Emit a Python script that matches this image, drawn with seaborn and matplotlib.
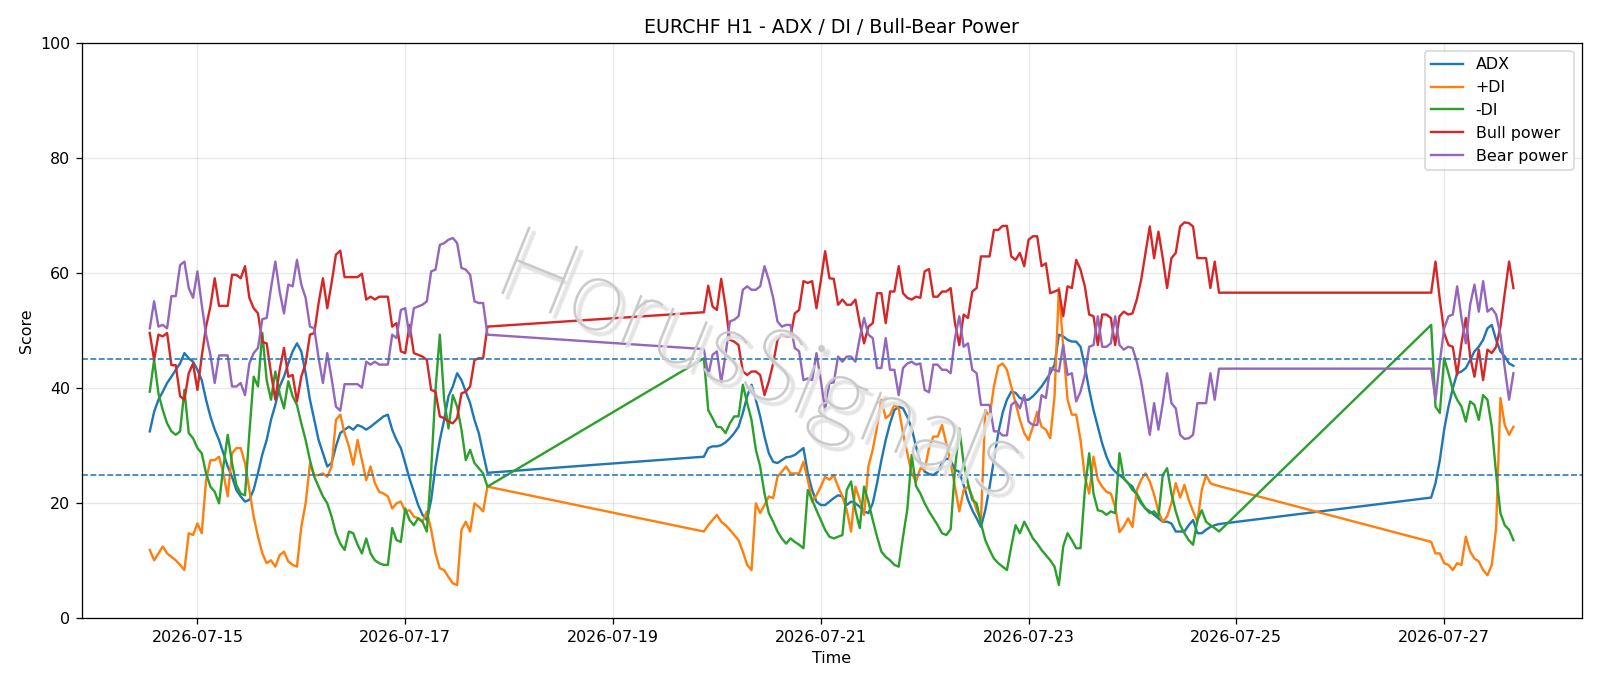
import numpy as np
import pandas as pd
import matplotlib
matplotlib.use("Agg")
import matplotlib.pyplot as plt
import matplotlib.dates as mdates
import matplotlib.patheffects as pe
import seaborn as sns

# ---------------- data ----------------
seg_starts = ["2026-07-14 13:00", "2026-07-19 21:00", "2026-07-26 21:00"]
seg_lengths = [79, 120, 20]

adx_1 = [32.5, 35.9, 38.0, 39.4, 40.9, 42.0, 43.2, 44.3, 46.1, 45.2,
         44.6, 43.2, 41.4, 38.0, 35.1, 32.8, 31.0, 28.7, 26.4, 24.6,
         22.3, 21.2, 20.3, 20.6, 22.4, 25.3, 28.5, 31.0, 34.5, 37.1,
         40.3, 42.0, 44.3, 46.4, 47.8, 46.4, 42.6, 38.0, 34.5, 31.0,
         28.7, 26.4, 27.0, 29.9, 32.2, 32.8, 33.3, 32.8, 33.6, 33.3,
         32.8, 33.3, 33.9, 34.5, 35.1, 35.4, 32.8, 31.0, 29.6, 27.0,
         24.3, 22.0, 19.7, 18.0, 17.1, 20.6, 26.4, 31.0, 34.5, 38.6,
         40.3, 42.6, 41.4, 39.4, 37.4, 34.5, 32.2, 28.7, 25.3]
adx_2 = [28.1, 29.6, 29.9, 29.9, 30.1, 30.6, 31.3, 32.2, 33.3, 35.7,
         38.6, 40.6, 38.0, 35.1, 31.6, 28.7, 27.2, 27.0, 27.5, 28.0,
         28.1, 28.4, 29.0, 29.6, 25.2, 22.3, 20.3, 19.7, 19.7, 20.3,
         20.9, 21.4, 21.2, 19.7, 20.3, 20.0, 19.4, 18.6, 18.3, 20.0,
         23.5, 27.5, 31.0, 33.9, 36.2, 36.8, 36.5, 35.0, 33.0, 29.9,
         27.0, 25.5, 25.1, 24.9, 25.5, 27.0, 27.8, 27.5, 25.8, 25.5,
         23.2, 20.6, 18.8, 17.4, 15.9, 18.8, 22.9, 27.5, 32.2, 35.7,
         38.0, 39.4, 39.2, 38.3, 38.0, 38.0, 38.6, 39.4, 40.3, 41.4,
         42.6, 44.1, 49.3, 49.0, 48.4, 48.1, 48.1, 47.2, 43.8, 39.7,
         36.2, 33.3, 30.4, 28.1, 26.4, 25.5, 24.9, 24.3, 23.5, 22.9,
         21.4, 20.0, 19.1, 18.6, 18.0, 17.4, 16.8, 16.8, 16.5, 15.1,
         15.1, 15.1, 16.2, 17.1, 14.8, 14.8, 15.4, 15.9, 16.2, 16.4]
adx_3 = [21.0, 23.5, 27.5, 32.8, 36.8, 40.0, 42.6, 42.9, 43.5, 44.9,
         46.4, 47.2, 48.4, 50.4, 51.0, 48.4, 46.4, 45.5, 44.3, 43.9]

pdi_1 = [11.9, 10.1, 11.3, 12.5, 11.3, 10.7, 10.1, 9.3, 8.4, 14.8,
         14.5, 16.5, 14.8, 24.0, 27.5, 27.5, 28.1, 25.2, 21.2, 28.7,
         29.6, 29.6, 27.0, 22.3, 17.7, 14.2, 11.3, 9.6, 10.1, 9.0,
         11.0, 11.6, 9.9, 9.3, 9.0, 15.9, 20.0, 26.9, 24.9, 24.9,
         25.2, 24.6, 26.4, 34.5, 35.4, 32.2, 29.9, 26.7, 31.0, 27.5,
         24.0, 26.4, 23.5, 22.0, 21.7, 21.2, 19.1, 20.0, 20.3, 18.6,
         18.8, 17.7, 17.4, 16.8, 18.6, 15.4, 11.3, 8.7, 8.4, 7.2,
         6.1, 5.8, 15.4, 16.8, 15.1, 20.0, 19.4, 18.6, 22.9]
pdi_2 = [15.1, 16.2, 17.1, 18.0, 16.8, 16.2, 15.4, 14.5, 13.6, 11.6,
         9.3, 8.4, 20.0, 18.3, 19.7, 21.2, 20.9, 24.6, 25.5, 26.4,
         25.2, 25.2, 25.2, 27.2, 24.1, 20.3, 21.4, 22.9, 24.6, 24.1,
         24.9, 22.9, 21.2, 18.8, 15.1, 22.9, 20.6, 18.0, 26.4, 29.3,
         33.3, 38.0, 34.8, 35.4, 37.1, 36.5, 32.2, 28.7, 25.2, 23.8,
         26.1, 25.8, 29.6, 31.6, 31.6, 33.6, 30.4, 27.0, 22.9, 18.6,
         22.3, 22.9, 21.2, 18.8, 17.1, 36.2, 35.1, 40.3, 43.8, 44.3,
         43.2, 40.3, 37.4, 34.5, 32.2, 31.0, 33.3, 35.9, 33.3, 32.8,
         31.3, 38.6, 57.4, 47.2, 38.0, 35.4, 35.4, 31.0, 24.6, 21.7,
         28.1, 24.1, 22.9, 22.0, 21.7, 19.4, 15.0, 16.0, 17.4, 15.9,
         22.3, 24.1, 25.2, 23.8, 21.5, 18.6, 16.8, 17.7, 20.0, 23.5,
         21.0, 23.2, 20.6, 18.6, 16.8, 22.3, 24.9, 23.5, 23.2, 23.0]
pdi_3 = [13.3, 11.3, 11.3, 9.6, 9.3, 8.4, 9.6, 9.3, 14.2, 11.6,
         10.4, 9.9, 8.4, 7.5, 9.3, 15.7, 38.3, 33.6, 31.9, 33.3]

mdi_1 = [39.4, 44.9, 39.1, 36.2, 33.9, 32.5, 31.9, 32.5, 39.7, 32.2,
         31.3, 29.6, 28.7, 25.2, 22.9, 22.0, 20.0, 26.4, 31.9, 27.0,
         23.2, 21.7, 21.4, 32.2, 42.0, 40.3, 49.6, 41.4, 38.0, 42.9,
         39.1, 36.5, 41.2, 38.6, 37.1, 33.9, 31.0, 27.5, 24.6, 22.9,
         21.2, 20.0, 17.7, 14.8, 13.0, 11.9, 15.1, 14.8, 12.8, 11.3,
         13.9, 11.3, 10.1, 9.6, 9.3, 9.3, 15.7, 13.6, 13.3, 19.1,
         17.1, 16.2, 17.4, 16.8, 15.1, 25.8, 39.7, 49.3, 38.0, 33.0,
         38.8, 36.8, 32.8, 27.5, 29.3, 27.0, 26.1, 25.2, 22.9]
mdi_2 = [45.2, 36.2, 34.8, 33.3, 33.2, 32.2, 33.9, 35.1, 35.1, 40.6,
         37.4, 34.5, 29.3, 26.4, 21.7, 18.3, 16.8, 15.1, 13.9, 13.0,
         13.9, 13.3, 12.8, 12.2, 22.3, 20.6, 18.8, 17.1, 15.4, 14.2,
         13.9, 14.2, 14.5, 22.3, 23.8, 18.8, 15.7, 22.9, 20.3, 17.1,
         14.2, 11.6, 10.7, 10.1, 9.3, 9.0, 14.2, 19.0, 28.4, 23.0,
         21.7, 20.0, 18.6, 17.4, 16.2, 14.8, 14.5, 15.5, 26.0, 33.0,
         27.0, 23.5, 20.6, 20.0, 16.5, 13.6, 11.9, 10.4, 9.6, 9.0,
         8.4, 12.5, 16.2, 14.8, 16.8, 15.4, 13.9, 13.0, 11.9, 11.0,
         10.1, 9.0, 5.8, 12.5, 14.8, 13.6, 12.2, 12.2, 22.3, 28.7,
         21.7, 18.8, 18.6, 18.0, 18.6, 18.3, 28.7, 24.3, 23.5, 22.3,
         21.7, 20.3, 19.1, 18.3, 18.6, 17.7, 24.9, 26.1, 21.7, 18.6,
         16.2, 14.8, 13.6, 12.8, 17.1, 18.8, 16.8, 16.2, 15.7, 15.1]
mdi_3 = [51.0, 36.8, 35.7, 45.2, 42.6, 39.7, 38.0, 36.8, 34.2, 37.7,
         37.1, 34.5, 38.8, 38.0, 33.3, 25.2, 18.3, 16.2, 15.4, 13.6]

bull_1 = [49.6, 44.9, 49.3, 49.0, 49.6, 44.0, 44.0, 38.6, 38.0, 42.6,
          44.3, 39.7, 45.5, 50.7, 54.2, 59.1, 54.3, 54.3, 54.3, 59.7,
          59.7, 59.1, 61.2, 55.7, 53.9, 53.0, 48.0, 47.8, 42.6, 38.0,
          43.2, 47.0, 42.0, 42.3, 37.7, 42.0, 44.3, 49.3, 49.6, 54.8,
          59.1, 53.9, 58.3, 63.2, 63.9, 59.3, 59.3, 59.3, 59.3, 59.9,
          55.4, 55.9, 55.4, 55.9, 55.9, 55.9, 50.7, 51.3, 46.4, 46.1,
          51.0, 46.1, 45.8, 45.5, 44.9, 39.7, 39.4, 35.1, 34.8, 34.2,
          33.9, 34.8, 39.1, 39.4, 40.3, 44.9, 45.2, 45.2, 50.7]
bull_2 = [53.2, 57.8, 54.2, 53.6, 59.0, 54.2, 48.4, 48.1, 47.5, 42.9,
          42.3, 42.9, 42.9, 42.3, 38.8, 41.2, 44.3, 48.4, 49.3, 49.0,
          49.0, 53.0, 53.6, 58.6, 58.3, 58.6, 53.9, 58.6, 63.8, 59.1,
          59.0, 54.5, 55.4, 54.5, 54.5, 55.4, 51.3, 47.8, 50.7, 51.3,
          56.5, 56.5, 51.3, 56.8, 56.8, 61.2, 56.5, 55.7, 55.4, 55.9,
          55.7, 60.3, 60.7, 55.9, 55.9, 56.8, 56.8, 57.4, 51.3, 47.5,
          52.8, 52.2, 56.8, 57.4, 62.9, 62.9, 62.9, 67.5, 67.5, 68.2,
          68.2, 62.9, 62.3, 63.5, 61.2, 65.8, 66.4, 66.4, 61.2, 61.7,
          56.5, 56.8, 57.1, 52.5, 57.7, 57.4, 62.3, 60.6, 57.7, 52.8,
          52.5, 47.5, 52.8, 52.8, 52.2, 47.5, 52.5, 53.3, 52.8, 53.0,
          55.4, 58.8, 63.5, 68.1, 62.6, 67.2, 62.6, 57.4, 62.6, 63.5,
          68.1, 68.8, 68.7, 68.1, 62.6, 62.6, 62.6, 57.4, 62.0, 56.6]
bull_3 = [56.6, 62.0, 55.4, 49.6, 47.5, 47.2, 42.3, 47.8, 52.2, 45.5,
          42.0, 46.7, 41.4, 46.7, 46.1, 47.2, 50.7, 56.5, 62.0, 57.4]

bear_1 = [50.4, 55.1, 50.7, 51.0, 50.4, 56.0, 56.0, 61.4, 62.0, 57.4,
          55.7, 60.3, 54.5, 49.3, 45.8, 40.9, 45.7, 45.7, 45.7, 40.3,
          40.3, 40.9, 38.8, 44.3, 46.1, 47.0, 52.0, 52.2, 57.4, 62.0,
          56.8, 53.0, 58.0, 57.7, 62.3, 58.0, 55.7, 50.7, 50.4, 45.2,
          40.9, 46.1, 41.7, 36.8, 36.1, 40.7, 40.7, 40.7, 40.7, 40.1,
          44.6, 44.1, 44.6, 44.1, 44.1, 44.1, 49.3, 48.7, 53.6, 53.9,
          49.0, 53.9, 54.2, 54.5, 55.1, 60.3, 60.6, 64.9, 65.2, 65.8,
          66.1, 65.2, 60.9, 60.6, 59.7, 55.1, 54.8, 54.8, 49.3]
bear_2 = [46.8, 42.2, 45.8, 46.4, 41.0, 45.8, 51.6, 51.9, 52.5, 57.1,
          57.7, 57.1, 57.1, 57.7, 61.2, 58.8, 55.7, 51.6, 50.7, 51.0,
          51.0, 47.0, 46.4, 41.4, 41.7, 41.4, 46.1, 41.4, 36.2, 40.9,
          41.0, 45.5, 44.6, 45.5, 45.5, 44.6, 48.7, 52.2, 49.3, 48.7,
          43.5, 43.5, 48.7, 43.2, 43.2, 38.8, 43.5, 44.3, 44.6, 44.1,
          44.3, 39.7, 39.3, 44.1, 44.1, 43.2, 43.2, 42.6, 48.7, 52.5,
          47.2, 47.8, 43.2, 42.6, 37.1, 37.1, 37.1, 32.5, 32.5, 31.8,
          31.8, 37.1, 37.7, 36.5, 38.8, 34.2, 33.6, 33.6, 38.8, 38.3,
          43.5, 43.2, 42.9, 47.5, 42.3, 42.6, 37.7, 39.4, 42.3, 47.2,
          47.5, 52.5, 47.2, 47.2, 47.8, 52.5, 47.5, 46.7, 47.2, 47.0,
          44.6, 41.2, 36.5, 31.9, 37.4, 32.8, 37.4, 42.6, 37.4, 36.5,
          31.9, 31.2, 31.3, 31.9, 37.4, 37.4, 37.4, 42.6, 38.0, 43.4]
bear_3 = [43.4, 38.0, 44.6, 50.4, 52.5, 52.8, 57.7, 52.2, 47.8, 54.5,
          58.0, 53.3, 58.6, 53.3, 53.9, 52.8, 49.3, 43.5, 38.0, 42.6]

series_names = ["ADX", "+DI", "-DI", "Bull power", "Bear power"]
series_colors = ["#1f77b4", "#ff7f0e", "#2ca02c", "#d62728", "#9467bd"]
threshold_levels = [25, 45]

title_text = "EURCHF H1 - ADX / DI / Bull-Bear Power"
watermark_text = "HorusSignals"

# ---------------- build frame ----------------
times = pd.DatetimeIndex([])
for s, n in zip(seg_starts, seg_lengths):
    times = times.append(pd.date_range(s, periods=n, freq="h"))

values = {
    "ADX": adx_1 + adx_2 + adx_3,
    "+DI": pdi_1 + pdi_2 + pdi_3,
    "-DI": mdi_1 + mdi_2 + mdi_3,
    "Bull power": bull_1 + bull_2 + bull_3,
    "Bear power": bear_1 + bear_2 + bear_3,
}
frames = []
for name in series_names:
    frames.append(pd.DataFrame({"Time": times, "Score": values[name], "series": name}))
df = pd.concat(frames, ignore_index=True)

# ---------------- plot ----------------
DPI = 1600 / 14
fig = plt.figure(figsize=(14, 686 / DPI), dpi=DPI)
ax = fig.add_axes([0.051, 0.0985, 0.9375, 0.839])

sns.lineplot(data=df, x="Time", y="Score", hue="series", hue_order=series_names,
             palette=series_colors, estimator=None, sort=True, linewidth=1.5, ax=ax)

for lvl in threshold_levels:
    ax.axhline(lvl, color="#1f77b4", linestyle="--", linewidth=1.0)

ax.set_ylim(0, 100)
ax.set_yticks([0, 20, 40, 60, 80, 100])
ax.xaxis.set_major_locator(mdates.DayLocator(interval=2))
ax.xaxis.set_major_formatter(mdates.DateFormatter("%Y-%m-%d"))
ax.grid(True, alpha=0.3)
ax.set_title(title_text, fontsize=12)
ax.set_xlabel("Time")
ax.set_ylabel("Score")

leg = ax.legend(loc="upper right", fontsize=10)
leg.set_title(None)

ax.text(0.452, 0.435, watermark_text, transform=ax.transAxes, fontsize=64,
        color="#c8c8c8", alpha=0.8, rotation=-22, ha="center", va="center",
        family=["Lato", "DejaVu Sans"], fontweight=200, zorder=5,
        path_effects=[pe.Stroke(offset=(3, -3), linewidth=2.2, foreground="#e4e4e4"),
                      pe.Stroke(linewidth=1.0, foreground="#c8c8c8"),
                      pe.Normal()])

fig.savefig("out.png", dpi=DPI)
